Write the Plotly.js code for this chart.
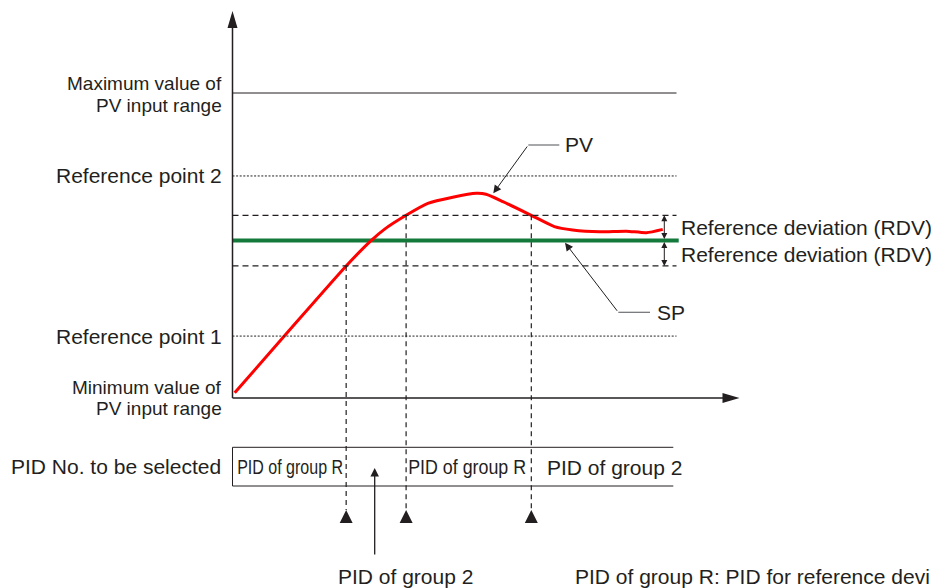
<!DOCTYPE html>
<html><head><meta charset="utf-8">
<script src="https://cdn.plot.ly/plotly-3.0.1.min.js"></script>
<style>html,body{margin:0;padding:0;background:#fff;overflow:hidden}</style>
</head><body><div id="chart" style="width:942px;height:588px"></div>
<script>
// ---- data (time in %, PV in % of input range) ----
const timeValues = [0.5, 12.8, 25.6, 31.2, 34.2, 39.1, 44.0, 49.6, 54.9, 57.1, 60.9, 67.3, 72.5, 76.6, 82.7, 88.7, 93.2, 96.9];
const pvValues   = [1.7, 22.2, 43.3, 51.6, 55.3, 59.9, 63.8, 65.8, 67.1, 66.8, 64.4, 59.9, 56.2, 55.1, 54.5, 54.7, 54.2, 55.3];
const spValue = 51.6;
const rdvValue = 8.3;
const rangeMin = 0;
const rangeMax = 100;
const referencePoint1 = 20.3;
const referencePoint2 = 72.8;
const timeEnd = 100;
const switchTimes = [25.6, 39.1, 67.3];
const switchLevels = [spValue - rdvValue, spValue + rdvValue, spValue + rdvValue];
const pidSegmentLabels = ["PID of group R", "PID of group R", "PID of group 2"];
const pidSegmentStarts = [1.0, 39.6, 70.4];
const leftLabels = ["Maximum value of", "PV input range", "Reference point 2", "Reference point 1", "Minimum value of", "PV input range", "PID No. to be selected"];

// ---- layout helpers (pixel -> axis units) ----
const X0PX = 232.5, XS = 4.44, Y0PX = 398, YS = 3.05;
const px2x = p => (p - X0PX) / XS;
const py2y = p => (Y0PX - p) / YS;

const INK = '#231f20';
const GRAY = '#6d6e71';
const FONT = 'Liberation Sans, Arial, sans-serif';

const triY = py2y(510);
const boxTop = py2y(447.3), boxBottom = py2y(486), boxRight = px2x(673.3);
const rdvX = px2x(664.3);

const traces = [
  { x: [0, timeEnd + 0.5], y: [spValue, spValue], mode: 'lines',
    line: { color: '#147a3c', width: 4 }, hoverinfo: 'skip' },
  { x: timeValues, y: pvValues, mode: 'lines',
    line: { color: '#ff0000', width: 3, shape: 'spline', smoothing: 0.6 }, hoverinfo: 'skip' },
  { x: switchTimes, y: switchTimes.map(() => triY), mode: 'markers', cliponaxis: false,
    marker: { symbol: 'arrow-up', size: 13, color: INK, line: { width: 0 } }, hoverinfo: 'skip' }
];

const shapes = [];
function hline(y, x0, x1, dash, w, c) {
  shapes.push({ type: 'line', xref: 'x', yref: 'y', x0: x0, x1: x1, y0: y, y1: y,
    line: { color: c || INK, width: w || 1, dash: dash || 'solid' } });
}
function vline(x, y0, y1, dash, w, c) {
  shapes.push({ type: 'line', xref: 'x', yref: 'y', x0: x, x1: x, y0: y0, y1: y1,
    line: { color: c || INK, width: w || 1, dash: dash || 'solid' } });
}
// axes
vline(0, rangeMin, py2y(26), 'solid', 1.5);
hline(rangeMin, 0, px2x(724), 'solid', 1.5);
shapes.push({ type: 'path', xref: 'x', yref: 'y', xsizemode: 'pixel', ysizemode: 'pixel',
  xanchor: 0, yanchor: py2y(11), path: 'M0,0 L-5,-17 L5,-17 Z', fillcolor: INK, line: { width: 0 } });
shapes.push({ type: 'path', xref: 'x', yref: 'y', xsizemode: 'pixel', ysizemode: 'pixel',
  xanchor: px2x(739.5), yanchor: rangeMin, path: 'M0,0 L-17,5 L-17,-5 Z', fillcolor: INK, line: { width: 0 } });
// range / reference lines
hline(rangeMax, 0, timeEnd, 'solid', 1);
hline(referencePoint2, 0, timeEnd, '2px,1.6px', 1);
hline(referencePoint1, 0, timeEnd, '2px,1.6px', 1);
hline(spValue + rdvValue, 0, timeEnd, '6px,4px', 1.2);
hline(spValue - rdvValue, 0, timeEnd, '6px,4px', 1.2);
// switch lines
switchTimes.forEach((t, i) => vline(t, switchLevels[i], triY, '5px,4px', 1.2));
// PID box
hline(boxTop, 0, boxRight, 'solid', 1);
hline(boxBottom, 0, boxRight, 'solid', 1);
vline(0, boxTop, boxBottom, 'solid', 1);
// leader horizontals
hline(py2y(145), px2x(528.3), px2x(559.3), 'solid', 1.2, GRAY);
hline(py2y(312.3), px2x(618.3), px2x(650), 'solid', 1.2, GRAY);

const ann = [];
const condensed = []; // [annotation index, target width px]
function label(text, x, y, xanchor, size) {
  ann.push({ text: text, x: x, y: y, xref: 'x', yref: 'y', xanchor: xanchor, yanchor: 'middle',
    showarrow: false, font: { family: FONT, size: size || 21, color: INK } });
  return ann.length - 1;
}
function arrow(x, y, ax, ay, opts) {
  ann.push(Object.assign({ text: '', x: x, y: y, ax: ax, ay: ay, xref: 'x', yref: 'y', axref: 'x', ayref: 'y',
    showarrow: true, arrowhead: 2, arrowsize: 1.4, arrowwidth: 1, arrowcolor: INK, standoff: 0, startstandoff: 0 }, opts || {}));
}
// left labels
const R = px2x(224);
label(leftLabels[0], R, py2y(83.5), 'right', 19);
label(leftLabels[1], R, py2y(105), 'right', 19);
label(leftLabels[2], R, referencePoint2, 'right', 21);
label(leftLabels[3], R, referencePoint1, 'right', 21);
label(leftLabels[4], R, py2y(387), 'right', 19);
label(leftLabels[5], R, py2y(408.5), 'right', 19);
label(leftLabels[6], px2x(223), py2y(466), 'right', 21);
// PV, SP
label('PV', px2x(563), py2y(144), 'left', 21);
label('SP', px2x(655), py2y(312), 'left', 21);
arrow(px2x(493.3), py2y(193.3), px2x(528.3), py2y(145), { arrowsize: 1.6 });
arrow(px2x(565), spValue - 0.7, px2x(618.3), py2y(312.3), { arrowsize: 1.6 });
// RDV
arrow(rdvX, spValue + rdvValue, rdvX, spValue, { arrowside: 'end+start', arrowsize: 1.2, arrowhead: 2 });
arrow(rdvX, spValue - rdvValue, rdvX, spValue, { arrowside: 'end+start', arrowsize: 1.2, arrowhead: 2 });
label('Reference deviation (RDV)', px2x(679), py2y(227), 'left', 21);
label('Reference deviation (RDV)', px2x(679), py2y(254), 'left', 21);
// PID box labels (first two are set in a condensed face)
const condW = [106, 118];
condensed.push([label(pidSegmentLabels[0], pidSegmentStarts[0] + condW[0] / 2 / XS, py2y(467), 'center', 20), condW[0]]);
condensed.push([label(pidSegmentLabels[1], pidSegmentStarts[1] + condW[1] / 2 / XS, py2y(467), 'center', 20), condW[1]]);
label(pidSegmentLabels[2], pidSegmentStarts[2], py2y(467), 'left', 21);
// bottom pointer
arrow(px2x(374.7), py2y(468), px2x(374.7), py2y(556), { arrowsize: 1.3, arrowwidth: 1.3 });
label('PID of group 2', px2x(405.5), py2y(576), 'center', 21);
label('PID of group R: PID for reference devi', px2x(573), py2y(576), 'left', 21);

const layout = {
  width: 942, height: 588, autosize: false,
  margin: { l: 0, r: 0, t: 0, b: 0, pad: 0 },
  paper_bgcolor: '#ffffff', plot_bgcolor: '#ffffff',
  showlegend: false,
  xaxis: { range: [px2x(0), px2x(942)], visible: false, fixedrange: true },
  yaxis: { range: [py2y(588), py2y(0)], visible: false, fixedrange: true },
  shapes: shapes, annotations: ann,
  font: { family: FONT, color: INK }
};
Plotly.newPlot('chart', traces, layout, { staticPlot: true, displayModeBar: false }).then(function (gd) {
  condensed.forEach(function (c) {
    const t = gd.querySelector('.annotation[data-index="' + c[0] + '"] text.annotation-text');
    if (t) { t.setAttribute('textLength', c[1]); t.setAttribute('lengthAdjust', 'spacingAndGlyphs'); }
  });
});
</script></body></html>
